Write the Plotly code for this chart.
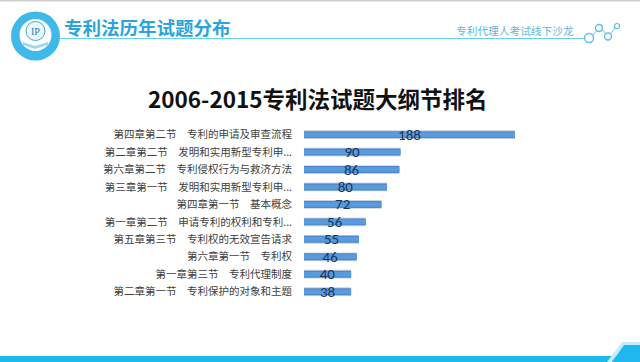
import plotly.graph_objects as go

# ---- data ----
categories = [
    "第四章第二节　专利的申请及审查流程",
    "第二章第二节　发明和实用新型专利申...",
    "第六章第二节　专利侵权行为与救济方法",
    "第三章第一节　发明和实用新型专利申...",
    "第四章第一节　基本概念",
    "第一章第二节　申请专利的权利和专利...",
    "第五章第三节　专利权的无效宣告请求",
    "第六章第一节　专利权",
    "第一章第三节　专利代理制度",
    "第二章第一节　专利保护的对象和主题",
]
value_labels = [188, 90, 86, 80, 72, 56, 55, 46, 40, 38]
bar_lengths = [188, 86, 85, 74, 69, 55, 49, 47, 42, 42]
chart_title = "2006-2015专利法试题大纲节排名"
header_title = "专利法历年试题分布"
header_right = "专利代理人考试线下沙龙"

W, H = 640, 362
CJK = "Noto Sans CJK SC"


def px(x):
    return x / W


def py(y):
    return 1 - y / H


def rect(x0, y0, x1, y1, color):
    return dict(type="rect", xref="paper", yref="paper", x0=px(x0), x1=px(x1),
                y0=py(y0), y1=py(y1), fillcolor=color, line=dict(width=0), layer="below")


def circle(cx, cy, r, fill, line=None, lw=0):
    return dict(type="circle", xref="paper", yref="paper", x0=px(cx - r), x1=px(cx + r),
                y0=py(cy - r), y1=py(cy + r), fillcolor=fill,
                line=dict(color=line or fill, width=lw), layer="below")


def poly(points, color):
    path = "M " + " L ".join(f"{px(x):.4f},{py(y):.4f}" for x, y in points) + " Z"
    return dict(type="path", xref="paper", yref="paper", path=path, fillcolor=color,
                line=dict(width=0), layer="below")


def seg(x0, y0, x1, y1, color, w):
    return dict(type="line", xref="paper", yref="paper", x0=px(x0), x1=px(x1),
                y0=py(y0), y1=py(y1), line=dict(color=color, width=w), layer="below")


def note(text, x, y, font, xanchor="center"):
    return dict(text=text, x=px(x), y=py(y), xref="paper", yref="paper", showarrow=False,
                xanchor=xanchor, yanchor="middle", font=font)


fig = go.Figure()
fig.add_bar(y=categories, x=bar_lengths, orientation="h", width=0.50,
            marker=dict(color="rgba(90,100,120,0.30)", line=dict(width=0)), hoverinfo="skip")
fig.add_bar(y=categories, x=bar_lengths, orientation="h", width=0.40,
            marker=dict(color="#4c88ca", line=dict(width=0)), hoverinfo="skip")
fig.add_bar(y=categories, x=bar_lengths, orientation="h", width=0.26,
            marker=dict(color="#5a9bdf", line=dict(width=0)),
            text=[str(v) for v in value_labels], textposition="inside", insidetextanchor="middle",
            textangle=0, constraintext="none",
            textfont=dict(family="Carlito, Liberation Sans", size=15, color="#17375e"))

shapes = [
    rect(0, 0, 640, 1.5, "#cfcfcf"),
    seg(58, 38.5, 586, 38.5, "#62d2e8", 1),
    rect(0, 356, 640, 362, "#1fb8ee"),
    poly([(607, 362), (622, 342), (640, 342), (640, 345), (624, 345), (612, 362)], "#c4ecfa"),
    poly([(612, 362), (624, 345), (640, 345), (640, 362)], "#1fb8ee"),
    circle(35.5, 36, 24.5, "#3fb8ea"),
    circle(35.5, 35, 16, "#ffffff"),
    circle(35.5, 31, 9.5, "#eaf7fd", "#4aa6c8", 1),
    poly([(23, 42), (35, 46), (48, 42), (48, 45), (35, 49), (23, 45)], "#9fd8ee"),
    seg(593, 35, 597, 30, "#62bfe0", 1),
    seg(602, 29, 606, 34, "#62bfe0", 1),
    seg(611, 33, 615, 28, "#62bfe0", 1),
    circle(589, 38, 4.5, "#ffffff", "#62bfe0", 1.4),
    circle(599, 28, 3.5, "#ffffff", "#62bfe0", 1.4),
    circle(608, 36.5, 3.5, "#ffffff", "#62bfe0", 1.4),
    circle(617, 26, 2.5, "#ffffff", "#62bfe0", 1.2),
]

annotations = [
    note(chart_title, 318, 98, dict(family=CJK, size=22.5, color="#111111", weight="bold")),
    note(header_title, 62, 27, dict(family=CJK, size=18.5, color="#2aa5dc", weight="bold"), "left"),
    note(header_right, 576, 30, dict(family=CJK, size=10.7, color="#5fb6dc"), "right"),
    note("IP", 35.5, 31, dict(family="Liberation Serif", size=10, color="#2f7f9f")),
]

fig.update_layout(
    width=W, height=H, autosize=False,
    margin=dict(l=0, r=0, t=0, b=0),
    paper_bgcolor="#ffffff", plot_bgcolor="rgba(0,0,0,0)",
    barmode="overlay", showlegend=False,
    shapes=shapes, annotations=annotations,
    xaxis=dict(domain=[px(304), px(528)], range=[0, 224 / 1.122], visible=False, fixedrange=True),
    yaxis=dict(domain=[py(300.4), py(125.9)], autorange="reversed", type="category",
               categoryorder="array", categoryarray=categories,
               showgrid=False, zeroline=False, showline=False, ticks="", automargin=False,
               ticklabelstandoff=11, tickfont=dict(family=CJK, size=10.5, color="#404040")),
)
fig.write_html("out.html", config={"displayModeBar": False},
               post_script="document.body.style.margin='0';document.body.style.overflow='hidden';")
